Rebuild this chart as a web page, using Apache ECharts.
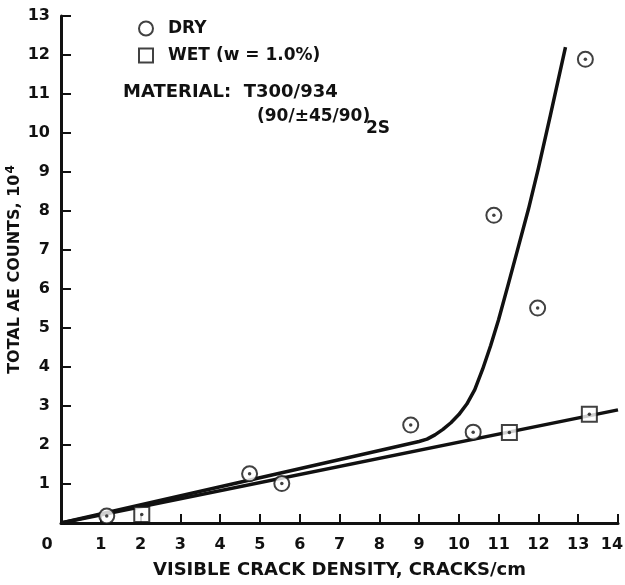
<!DOCTYPE html>
<html>
<head>
<meta charset="utf-8">
<script src="https://cdn.jsdelivr.net/npm/echarts@6/dist/echarts.min.js"></script>
<style>html,body{margin:0;padding:0;background:#fff}#c{width:625px;height:585px}</style>
</head>
<body>
<div id="c"></div>
<script>
// Data
var xTicks = [0,1,2,3,4,5,6,7,8,9,10,11,12,13,14];
var yTicks = [0,1,2,3,4,5,6,7,8,9,10,11,12,13];
var dryX = [1.15, 4.74, 5.55, 8.79, 10.36, 10.88, 11.98, 13.18];
var dryY = [0.18, 1.26, 1.01, 2.51, 2.33, 7.89, 5.51, 11.89];
var wetX = [2.03, 11.27, 13.28];
var wetY = [0.22, 2.32, 2.79];
var dryCurveX = [0, 9.0, 9.2, 9.4, 9.6, 9.8, 10.0, 10.2, 10.4, 10.6, 10.8, 11.0, 11.25, 11.5, 11.75, 12.0, 12.3, 12.68];
var dryCurveY = [0, 2.09, 2.15, 2.26, 2.4, 2.57, 2.78, 3.05, 3.42, 3.95, 4.55, 5.22, 6.15, 7.1, 8.05, 9.1, 10.45, 12.2];
var wetLineX = [0, 14];
var wetLineY = [0, 2.9];

function pairs(xs, ys){ return xs.map(function(x,i){ return [x, ys[i]]; }); }

var FONT = 'DejaVu Sans';
var chart = echarts.init(document.getElementById('c'));
chart.setOption({
  animation: false,
  backgroundColor: '#fff',
  grid: {left: 61, right: 7, top: 16, bottom: 62, containLabel: false, outerBoundsMode: 'none'},
  legend: {
    orient: 'vertical', left: 133, top: 15,
    itemWidth: 14, itemHeight: 14, itemGap: 10,
    data: ['DRY', 'WET (w = 1.0%)'],
    textStyle: {fontFamily: FONT, fontWeight: 'bold', fontSize: 17, color: '#111', padding: [0,0,0,10]}
  },
  xAxis: {
    type: 'value', min: 0, max: 14, interval: 1,
    name: 'VISIBLE CRACK DENSITY, CRACKS/cm', nameLocation: 'middle', nameGap: 38, nameMoveOverlap: false,
    nameTextStyle: {fontFamily: FONT, fontWeight: 'bold', fontSize: 18, color: '#111'},
    axisLine: {lineStyle: {color: '#111', width: 3}},
    axisTick: {inside: true, length: 9, lineStyle: {color: '#111', width: 2}},
    axisLabel: {
      margin: 14, fontFamily: FONT, fontWeight: 'bold', fontSize: 16, color: '#111',
      formatter: function(v){
        if (v === 0) return '{z|0}';
        if (v === 14) return '{r|14}';
        return String(xTicks[v] !== undefined ? xTicks[v] : v);
      },
      rich: {
        z: {fontFamily: FONT, fontWeight: 'bold', fontSize: 16, color: '#111', padding: [0, 28, 0, 0]},
        r: {fontFamily: FONT, fontWeight: 'bold', fontSize: 16, color: '#111', padding: [0, 12, 0, 0]}
      }
    },
    splitLine: {show: false}
  },
  yAxis: {
    type: 'value', min: 0, max: 13, interval: 1,
    name: 'TOTAL AE COUNTS, 10{s|4}', nameLocation: 'middle', nameGap: 36, nameMoveOverlap: false,
    nameTextStyle: {fontFamily: FONT, fontWeight: 'bold', fontSize: 16, color: '#111',
      rich: {s: {fontFamily: FONT, fontWeight: 'bold', fontSize: 12, color: '#111', verticalAlign: 'top', padding: [0,0,8,1]}}},
    axisLine: {show: true, lineStyle: {color: '#111', width: 3}},
    axisTick: {show: true, inside: true, length: 10, lineStyle: {color: '#111', width: 2}},
    axisLabel: {showMinLabel: false, margin: 11, fontFamily: FONT, fontWeight: 'bold', fontSize: 16, color: '#111',
      formatter: function(v){ return String(yTicks[v] !== undefined ? yTicks[v] : v); }},
    splitLine: {show: false}
  },
  graphic: [
    {type: 'text', left: 123, top: 83, style: {text: 'MATERIAL:  T300/934', font: 'bold 18px "DejaVu Sans"', fill: '#111'}},
    {type: 'text', left: 257, top: 108, style: {text: '(90/±45/90)', font: 'bold 17px "DejaVu Sans"', fill: '#111'}},
    {type: 'text', left: 366, top: 120, style: {text: '2S', font: 'bold 17px "DejaVu Sans"', fill: '#111'}}
  ],
  series: [
    {name: 'dryCurve', type: 'line', data: pairs(dryCurveX, dryCurveY), smooth: false, symbol: 'none', z: 1,
      lineStyle: {color: '#111', width: 3.5, join: 'round'}},
    {name: 'wetLine', type: 'line', data: pairs(wetLineX, wetLineY), symbol: 'none', z: 1,
      lineStyle: {color: '#111', width: 3.5}},
    {name: 'DRY', type: 'scatter', data: pairs(dryX, dryY), symbol: 'emptyCircle', symbolSize: 15, z: 3,
      itemStyle: {color: '#111', borderColor: '#111', borderWidth: 3}},
    {name: 'dryDot', type: 'scatter', data: pairs(dryX, dryY), symbol: 'circle', symbolSize: 3.5, z: 4,
      itemStyle: {color: '#111'}},
    {name: 'WET (w = 1.0%)', type: 'scatter', data: pairs(wetX, wetY), symbol: 'emptyRect', symbolSize: 15, z: 3,
      itemStyle: {color: '#111', borderColor: '#111', borderWidth: 3}},
    {name: 'wetDot', type: 'scatter', data: pairs(wetX, wetY), symbol: 'circle', symbolSize: 3.5, z: 4,
      itemStyle: {color: '#111'}}
  ]
});
</script>
</body>
</html>
